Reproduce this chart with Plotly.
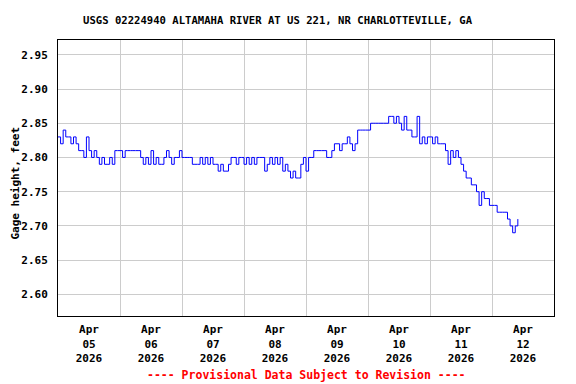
import pandas as pd
import plotly.graph_objects as go

# Hourly gage height readings (feet)
apr05 = [2.83, 2.82, 2.84, 2.83, 2.83, 2.82, 2.83, 2.82, 2.81, 2.81, 2.80, 2.83,
         2.81, 2.80, 2.81, 2.80, 2.79, 2.80, 2.79, 2.79, 2.80, 2.79, 2.81, 2.81]
apr06 = [2.81, 2.80, 2.81, 2.81, 2.81, 2.81, 2.81, 2.81, 2.80, 2.79, 2.80, 2.79,
         2.81, 2.79, 2.80, 2.79, 2.79, 2.80, 2.81, 2.80, 2.79, 2.80, 2.80, 2.81]
apr07 = [2.80, 2.80, 2.80, 2.80, 2.79, 2.79, 2.79, 2.80, 2.79, 2.80, 2.79, 2.80,
         2.79, 2.79, 2.78, 2.79, 2.78, 2.78, 2.79, 2.80, 2.80, 2.79, 2.80, 2.80]
apr08 = [2.79, 2.80, 2.79, 2.80, 2.79, 2.80, 2.80, 2.80, 2.78, 2.79, 2.80, 2.79,
         2.80, 2.79, 2.80, 2.78, 2.79, 2.78, 2.77, 2.78, 2.77, 2.77, 2.79, 2.80]
apr09 = [2.78, 2.80, 2.80, 2.81, 2.81, 2.81, 2.81, 2.81, 2.80, 2.80, 2.81, 2.82,
         2.82, 2.81, 2.82, 2.82, 2.83, 2.82, 2.81, 2.82, 2.84, 2.84, 2.84, 2.84]
apr10 = [2.84, 2.85, 2.85, 2.85, 2.85, 2.85, 2.85, 2.85, 2.86, 2.86, 2.85, 2.86,
         2.85, 2.84, 2.86, 2.84, 2.84, 2.83, 2.83, 2.86, 2.82, 2.83, 2.82, 2.83]
apr11 = [2.83, 2.82, 2.83, 2.82, 2.82, 2.82, 2.81, 2.79, 2.81, 2.80, 2.81, 2.80,
         2.79, 2.78, 2.77, 2.77, 2.76, 2.76, 2.75, 2.73, 2.75, 2.74, 2.74, 2.73]
apr12 = [2.73, 2.73, 2.72, 2.72, 2.72, 2.72, 2.71, 2.70, 2.69, 2.70, 2.71]

values = apr05 + apr06 + apr07 + apr08 + apr09 + apr10 + apr11 + apr12
times = pd.date_range("2026-04-05 00:00", periods=len(values), freq="h")

day_starts = pd.date_range("2026-04-05", "2026-04-13", freq="D")
label_pos = [d + pd.Timedelta(hours=12) for d in day_starts[:-1]]
x_labels = ["Apr<br>05<br>2026", "Apr<br>06<br>2026", "Apr<br>07<br>2026", "Apr<br>08<br>2026",
            "Apr<br>09<br>2026", "Apr<br>10<br>2026", "Apr<br>11<br>2026", "Apr<br>12<br>2026"]
y_ticks = [2.60, 2.65, 2.70, 2.75, 2.80, 2.85, 2.90, 2.95]

title_text = "USGS 02224940 ALTAMAHA RIVER AT US 221, NR CHARLOTTEVILLE, GA"
footer_text = "---- Provisional Data Subject to Revision ----"
ytitle_text = "Gage height, feet"

FONT = "DejaVu Sans Mono"

fig = go.Figure()
fig.add_trace(go.Scatter(x=times, y=values, mode="lines",
                         line=dict(color="#0000ff", width=1, shape="hv"),
                         hoverinfo="x+y", showlegend=False))

# page has an 8px body margin; figure is sized to fit inside the window
OFF = 8
W, H = 576 - OFF, 384 - OFF
L, T = 58 - OFF, 40 - OFF
pw, ph = 496, 276
R, B = W - L - pw, H - T - ph

def px(x):  # page pixel -> paper coords
    return (x - OFF - L) / pw

def py(y):
    return (T + ph - (y - OFF)) / ph

fig.update_layout(
    width=W, height=H,
    margin=dict(l=L, r=R, t=T, b=B, pad=0),
    paper_bgcolor="white", plot_bgcolor="white",
    font=dict(family=FONT, size=11, color="black"),
    xaxis=dict(
        range=[day_starts[0], day_starts[-1]],
        tickmode="array", tickvals=label_pos,
        ticktext=[f"<b>{t.replace('<br>', '</b><br><b>')}</b>" for t in x_labels],
        showgrid=False, ticks="", ticklabelstandoff=3,
        minor=dict(tickvals=list(day_starts), showgrid=True, gridcolor="#cccccc", gridwidth=1, ticks=""),
        showline=True, linecolor="black", linewidth=1, mirror=True, zeroline=False,
        tickfont=dict(family=FONT, size=11, color="black"),
    ),
    yaxis=dict(
        range=[2.5684, 2.9716],
        tickmode="array", tickvals=y_ticks, ticktext=[f"<b>{v:.2f}</b>" for v in y_ticks],
        showgrid=True, gridcolor="#cccccc", gridwidth=1, ticks="", ticklabelstandoff=7,
        showline=True, linecolor="black", linewidth=1, mirror=True, zeroline=False,
        tickfont=dict(family=FONT, size=11, color="black"),
    ),
    annotations=[
        dict(text=f"<b>{title_text}</b>", xref="paper", yref="paper", x=px(277.5), y=py(20),
             xanchor="center", yanchor="middle", showarrow=False,
             font=dict(family=FONT, size=10.6, color="black")),
        dict(text=f"<b>{ytitle_text}</b>", xref="paper", yref="paper", x=px(14.5), y=py(183),
             xanchor="center", yanchor="middle", showarrow=False, textangle=-90,
             font=dict(family=FONT, size=11, color="black")),
        dict(text=f"<b>{footer_text}</b>", xref="paper", yref="paper", x=px(306), y=py(375),
             xanchor="center", yanchor="middle", showarrow=False,
             font=dict(family=FONT, size=11.5, color="#ff0000")),
    ],
)

fig.write_html("out.html")
